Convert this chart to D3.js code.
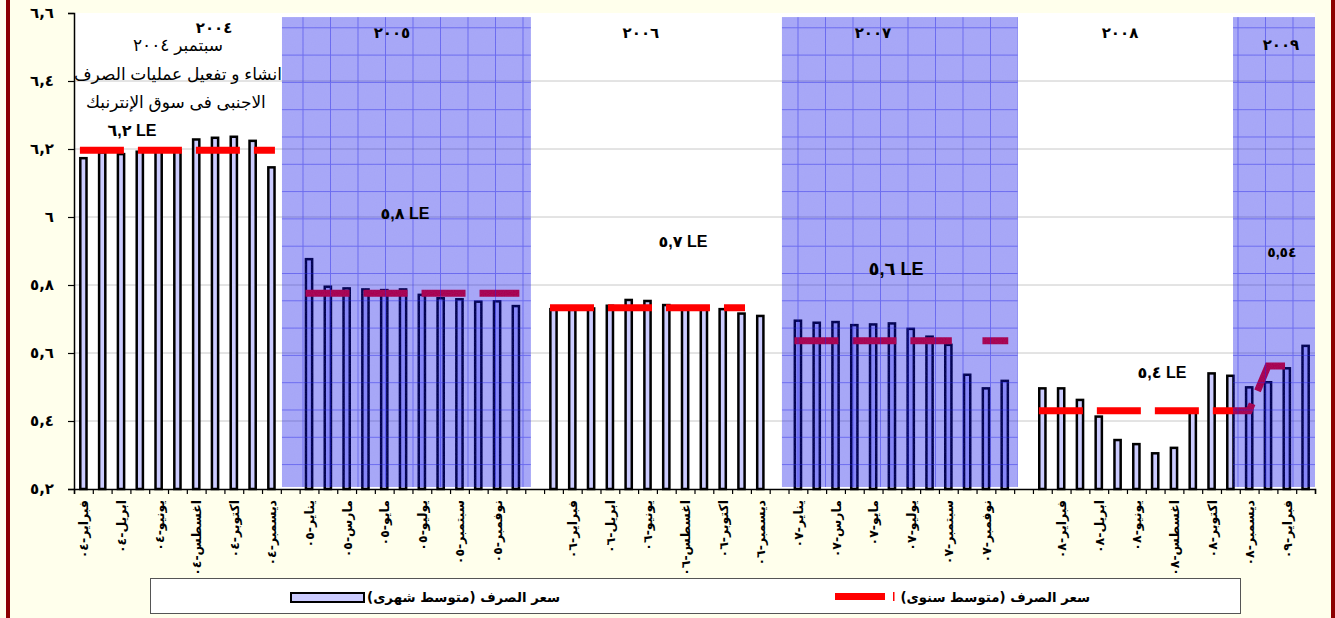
<!DOCTYPE html>
<html><head><meta charset="utf-8">
<script src="https://cdn.jsdelivr.net/npm/d3@7/dist/d3.min.js"></script>
<style>
body{margin:0;background:#FFFFEC;}
svg{display:block;}
</style>
</head><body>
<svg id="chart" width="1335" height="618"></svg>
<script>
// ---------------- DATA ----------------
const categories = [
  "فبراير-٠٤","مارس-٠٤","ابريل-٠٤","مايو-٠٤","يونيو-٠٤","يوليو-٠٤","اغسطس-٠٤","سبتمبر-٠٤","اكتوبر-٠٤","نوفمبر-٠٤","ديسمبر-٠٤",
  "",
  "يناير-٠٥","فبراير-٠٥","مارس-٠٥","ابريل-٠٥","مايو-٠٥","يونيو-٠٥","يوليو-٠٥","اغسطس-٠٥","سبتمبر-٠٥","اكتوبر-٠٥","نوفمبر-٠٥","ديسمبر-٠٥",
  "",
  "يناير-٠٦","فبراير-٠٦","مارس-٠٦","ابريل-٠٦","مايو-٠٦","يونيو-٠٦","يوليو-٠٦","اغسطس-٠٦","سبتمبر-٠٦","اكتوبر-٠٦","نوفمبر-٠٦","ديسمبر-٠٦",
  "",
  "يناير-٠٧","فبراير-٠٧","مارس-٠٧","ابريل-٠٧","مايو-٠٧","يونيو-٠٧","يوليو-٠٧","اغسطس-٠٧","سبتمبر-٠٧","اكتوبر-٠٧","نوفمبر-٠٧","ديسمبر-٠٧",
  "",
  "يناير-٠٨","فبراير-٠٨","مارس-٠٨","ابريل-٠٨","مايو-٠٨","يونيو-٠٨","يوليو-٠٨","اغسطس-٠٨","سبتمبر-٠٨","اكتوبر-٠٨","نوفمبر-٠٨","ديسمبر-٠٨",
  "يناير-٠٩","فبراير-٠٩","مارس-٠٩"
];

// monthly average exchange rate (bars)
const monthlyRate = [
  6.173, 6.190, 6.185, 6.192, 6.196, 6.196, 6.228, 6.233, 6.236, 6.224, 6.146,
  null,
  5.876, 5.795, 5.790, 5.787, 5.785, 5.787, 5.771, 5.761, 5.758, 5.751, 5.752, 5.738,
  null,
  5.729, 5.727, 5.731, 5.739, 5.756, 5.753, 5.741, 5.730, 5.733, 5.729, 5.716, 5.709,
  null,
  5.695, 5.689, 5.691, 5.682, 5.684, 5.687, 5.671, 5.648, 5.624, 5.536, 5.496, 5.518,
  null,
  5.496, 5.496, 5.462, 5.413, 5.344, 5.332, 5.305, 5.321, 5.430, 5.540, 5.533, 5.499,
  5.514, 5.555, 5.621
];

// yearly average exchange rate (dashed line)
const yearlyRate = [
  6.196, 6.196, 6.196, 6.196, 6.196, 6.196, 6.196, 6.196, 6.196, 6.196, 6.196,
  null,
  5.776, 5.776, 5.776, 5.776, 5.776, 5.776, 5.776, 5.776, 5.776, 5.776, 5.776, 5.776,
  null,
  5.733, 5.733, 5.733, 5.733, 5.733, 5.733, 5.733, 5.733, 5.733, 5.733, 5.733, null,
  null,
  5.636, 5.636, 5.636, 5.636, 5.636, 5.636, 5.636, 5.636, 5.636, null, 5.636, 5.636,
  null,
  5.430, 5.430, 5.430, 5.430, 5.430, 5.430, 5.430, 5.430, 5.430, 5.430, 5.430, 5.430,
  5.562, 5.562, null
];

const yTickValues = [5.2, 5.4, 5.6, 5.8, 6.0, 6.2, 6.4, 6.6];
const yTickLabels = ["٥,٢", "٥,٤", "٥,٦", "٥,٨", "٦", "٦,٢", "٦,٤", "٦,٦"];

// shaded year bands (in category-index units)
const shadedYears = ["٢٠٠٥", "٢٠٠٧", "٢٠٠٩"];
const shadedFrom = [11.06, 37.65, 61.64];
const shadedTo = [24.30, 50.20, 66.0];

// annotations: text, category-index anchor, value anchor
const annText = ["٢٠٠٤", "سبتمبر ٢٠٠٤", "انشاء و تفعيل عمليات الصرف", "الاجنبى فى سوق الإنترنبك", "٦,٢ LE",
                 "٢٠٠٥", "٥,٨ LE", "٢٠٠٦", "٥,٧ LE", "٢٠٠٧", "٥,٦ LE", "٢٠٠٨", "٥,٤ LE", "٢٠٠٩", "٥,٥٤"];
const annCat = [7.45, 5.53, 5.53, 5.42, 3.08, 16.91, 17.6, 30.15, 32.39, 42.49, 43.72, 55.63, 57.86, 64.19, 64.24];
const annVal = [6.541, 6.488, 6.403, 6.321, 6.238, 6.526, 5.994, 6.526, 5.912, 6.526, 5.829, 6.526, 5.526, 6.491, 5.882];
const annKind = ["year","note","note","note","price","year","price","year","price","year","priceL","year","price","year","yearS"];

const legendLabels = ["سعر الصرف (متوسط شهرى)", "سعر الصرف (متوسط سنوى)"];

// ---------------- CHART ----------------
const W = 1335, H = 618;
const plot = {left: 74, right: 1315, top: 13, bottom: 489};
const svg = d3.select("#chart");
const AR = "'DejaVu Sans', sans-serif";
const LAT = "'Liberation Sans', 'DejaVu Sans', sans-serif";

// background & side borders
svg.append("rect").attr("width", W).attr("height", H).attr("fill", "#FFFFEC");
svg.append("rect").attr("x", 6).attr("y", 0).attr("width", 4).attr("height", H).attr("fill", "#8B0000");
svg.append("rect").attr("x", 1331).attr("y", 0).attr("width", 4).attr("height", H).attr("fill", "#8B0000");

const idx = d3.range(categories.length);
const xBand = d3.scaleBand().domain(idx).range([plot.left, plot.right]).padding(0);
const xPos = d3.scaleLinear().domain([0, categories.length]).range([plot.left, plot.right]);
const y = d3.scaleLinear().domain([5.2, 6.6]).range([plot.bottom, plot.top]);

// plot area
svg.append("rect").attr("x", plot.left).attr("y", plot.top)
  .attr("width", plot.right - plot.left).attr("height", plot.bottom - plot.top).attr("fill", "#FFFFFF");

// gridlines
svg.append("g").selectAll("line").data(yTickValues.filter(v => v > 5.2 && v < 6.6)).join("line")
  .attr("x1", plot.left).attr("x2", plot.right)
  .attr("y1", d => y(d)).attr("y2", d => y(d))
  .attr("stroke", "#C8C8C8").attr("stroke-width", 1);

// bars
const bw = xBand.bandwidth() * 0.33;
svg.append("g").selectAll("rect").data(idx.filter(i => monthlyRate[i] != null)).join("rect")
  .attr("x", i => xBand(i) + xBand.bandwidth() / 2 - bw / 2)
  .attr("y", i => y(monthlyRate[i]))
  .attr("width", bw)
  .attr("height", i => y(5.2) - y(monthlyRate[i]))
  .attr("fill", "#CCCCFF").attr("stroke", "#000").attr("stroke-width", 2.5);

// yearly average dashed line (separate path per contiguous run)
const runs = [];
let cur = [];
idx.forEach(i => {
  if (yearlyRate[i] != null) cur.push(i);
  else { if (cur.length) runs.push(cur); cur = []; }
});
if (cur.length) runs.push(cur);
const line = d3.line().x(i => xBand(i) + xBand.bandwidth() / 2).y(i => y(yearlyRate[i]));
svg.append("g").selectAll("path").data(runs).join("path")
  .attr("d", r => line(r))
  .attr("fill", "none").attr("stroke", "#FF0000").attr("stroke-width", 7)
  .attr("stroke-dasharray", "37 21").attr("stroke-linecap", "square").attr("stroke-linejoin", "miter");

// shaded year bands
const defs = svg.append("defs");
const pat = defs.append("pattern").attr("id", "grid").attr("patternUnits", "userSpaceOnUse")
  .attr("width", 27.5).attr("height", 27.3);
pat.append("rect").attr("width", 27.5).attr("height", 27.3).attr("fill", "rgba(0,0,232,0.34)");
pat.append("path").attr("d", "M0 0.5 H27.5 M0.5 0 V27.3").attr("stroke", "rgba(30,30,230,0.45)").attr("stroke-width", 1);
const noise = defs.append("filter").attr("id", "noise").attr("x", 0).attr("y", 0).attr("width", 1).attr("height", 1);
noise.append("feTurbulence").attr("type", "fractalNoise").attr("baseFrequency", 0.9).attr("numOctaves", 1).attr("seed", 3).attr("result", "n");
noise.append("feColorMatrix").attr("in", "n").attr("type", "matrix")
  .attr("values", "0 0 0 0 0.3  0 0 0 0 0.3  0 0 0 0 0.9  0 0 0 0.35 -0.1");
noise.append("feComposite").attr("in2", "SourceGraphic").attr("operator", "in");

const bandG = svg.append("g");
shadedYears.forEach((yr, k) => {
  const x0 = xPos(shadedFrom[k]), x1 = xPos(shadedTo[k]);
  bandG.append("rect").attr("x", x0).attr("y", y(6.588)).attr("width", x1 - x0).attr("height", y(5.206) - y(6.588))
    .attr("fill", "url(#grid)");
  bandG.append("rect").attr("x", x0).attr("y", y(6.588)).attr("width", x1 - x0).attr("height", y(5.206) - y(6.588))
    .attr("fill", "#8080ff").attr("filter", "url(#noise)").attr("opacity", 0.5);
});

// axes
const yAxis = d3.axisLeft(y).tickValues(yTickValues).tickSize(6)
  .tickFormat(v => yTickLabels[yTickValues.indexOf(v)]);
const gy = svg.append("g").attr("transform", `translate(${plot.left},0)`).call(yAxis);
gy.select(".domain").attr("stroke", "#000").attr("stroke-width", 1.5);
gy.selectAll(".tick line").attr("stroke", "#000").attr("stroke-width", 1.2);
gy.selectAll(".tick text").attr("x", -20).attr("font-family", AR).attr("font-weight", "bold")
  .attr("font-size", 15).attr("fill", "#000");

const xAxis = d3.axisBottom(xPos).tickValues(d3.range(0, categories.length + 1)).tickSize(5).tickFormat("");
const gx = svg.append("g").attr("transform", `translate(0,${plot.bottom})`).call(xAxis);
gx.select(".domain").attr("stroke", "#000").attr("stroke-width", 1.5);
gx.selectAll(".tick line").attr("stroke", "#000").attr("stroke-width", 1.2);

// x labels: every second category, rotated
svg.append("g").selectAll("text").data(idx.filter(i => i % 2 === 0 && categories[i] !== "")).join("text")
  .attr("transform", i => `translate(${xBand(i) + xBand.bandwidth() / 2 + 5},${plot.bottom + 11}) rotate(-90)`)
  .attr("text-anchor", "end")
  .attr("font-family", AR).attr("font-weight", "bold").attr("font-size", 12.5).attr("fill", "#000")
  .text(i => categories[i]);

// annotations
const annStyle = {
  year: {size: 15, weight: "bold"},
  yearS: {size: 14, weight: "bold"},
  note: {size: 17, weight: "normal"},
  price: {size: 16, weight: "bold"},
  priceL: {size: 18, weight: "bold"}
};
svg.append("g").selectAll("text").data(annText.map((t, k) => k)).join("text")
  .attr("x", k => xPos(annCat[k])).attr("y", k => y(annVal[k]))
  .attr("text-anchor", "middle")
  .attr("font-family", LAT)
  .attr("font-size", k => annStyle[annKind[k]].size)
  .attr("font-weight", k => annStyle[annKind[k]].weight)
  .attr("fill", "#000")
  .text(k => annText[k]);

// legend
const lg = svg.append("g");
lg.append("rect").attr("x", 150.5).attr("y", 578.5).attr("width", 1090).attr("height", 35)
  .attr("fill", "#FFFFFF").attr("stroke", "#555").attr("stroke-width", 1);
lg.append("rect").attr("x", 291).attr("y", 593).attr("width", 73).attr("height", 9)
  .attr("fill", "#CCCCFF").attr("stroke", "#000").attr("stroke-width", 2);
lg.append("text").attr("x", 560).attr("y", 602).attr("text-anchor", "end")
  .attr("font-family", AR).attr("font-weight", "bold").attr("font-size", 13.3).text(legendLabels[0]);
lg.append("rect").attr("x", 835).attr("y", 593).attr("width", 50).attr("height", 7).attr("fill", "#FF0000");
lg.append("rect").attr("x", 893).attr("y", 592).attr("width", 1.5).attr("height", 9).attr("fill", "#FF0000");
lg.append("text").attr("x", 1090).attr("y", 602).attr("text-anchor", "end")
  .attr("font-family", AR).attr("font-weight", "bold").attr("font-size", 13.3).text(legendLabels[1]);
</script>
</body></html>
